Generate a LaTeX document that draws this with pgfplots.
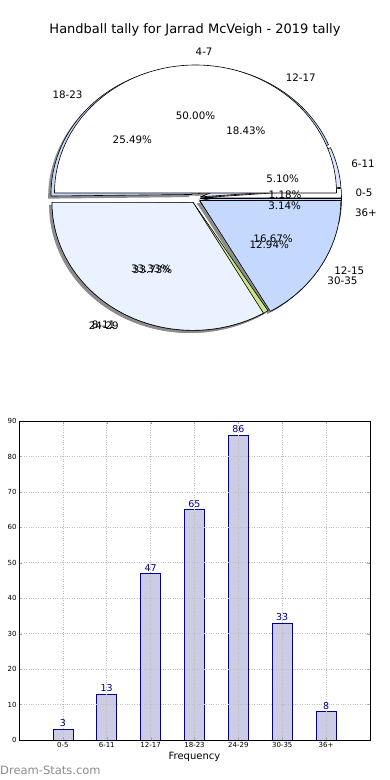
\documentclass[border=0pt]{standalone}
\usepackage{pgfplots}
\pgfplotsset{compat=1.18}
\usepackage{fontspec}
\setmainfont{DejaVu Sans}
\definecolor{barfill}{RGB}{204,204,229}
\definecolor{baredge}{RGB}{0,0,139}
\definecolor{pw}{RGB}{255,255,255}
\definecolor{pl}{RGB}{234,241,255}
\definecolor{pb}{RGB}{197,217,255}
\definecolor{pg}{RGB}{206,230,128}
\definecolor{pv}{RGB}{220,232,255}
\tikzset{pielab/.style={font=\fontsize{10.3}{12}\selectfont, inner sep=0pt}}

% #1 total, #2 mode (0 shadow, 1 wedge, 2 text), #3 list value/colour/label
\newcommand\drawpie[3]{%
 \gdef\cum{0}%
 \foreach \v/\cl/\lb in {#3}{%
   \pgfmathsetmacro\sa{\cum/#1*360}%
   \pgfmathsetmacro\cumn{\cum+\v}%
   \global\let\cum\cumn
   \pgfmathsetmacro\ea{\cum/#1*360}%
   \pgfmathsetmacro\ma{(\sa+\ea)/2}%
   \pgfmathsetmacro\ex{5*cos(\ma)}%
   \pgfmathsetmacro\ey{5*sin(\ma)}%
   \ifcase#2 %
     \pgfmathsetmacro\sx{\ex-2.8}\pgfmathsetmacro\sy{\ey-2.6}%
     \edef\tmp{\noexpand\fill[black!45] (axis cs:\sx,\sy) -- ++(\sa:141pt and 128pt) arc[start angle=\sa, end angle=\ea, x radius=141pt, y radius=128pt] -- cycle;}\tmp
   \or
     \edef\tmp{\noexpand\filldraw[fill=\cl, draw=black, line width=0.6pt, line join=round] (axis cs:\ex,\ey) -- ++(\sa:141pt and 128pt) arc[start angle=\sa, end angle=\ea, x radius=141pt, y radius=128pt] -- cycle;}\tmp
   \or
     \pgfmathsetmacro\lx{\ex+155.1*cos(\ma)}%
     \pgfmathsetmacro\ly{\ey+140.8*sin(\ma)}%
     \pgfmathsetmacro\px{\ex+84.6*cos(\ma)}%
     \pgfmathsetmacro\py{\ey+76.8*sin(\ma)}%
     \pgfmathtruncatemacro\isr{cos(\ma)>-0.001}%
     \ifnum\isr=1 \def\an{west}\else\def\an{east}\fi
     \pgfmathsetmacro\pp{100*\v/#1}%
     \pgfmathtruncatemacro\pc{round(100*\pp)}%
     \pgfmathtruncatemacro\pint{(\pc+0.01)/100}%
     \pgfmathtruncatemacro\pfr{\pc-100*\pint}%
     \ifnum\pfr<10 \edef\pfr{0\pfr}\fi
     \edef\tmp{\noexpand\node[pielab, anchor=\an] at (axis cs:\lx,\ly) {\lb};
       \noexpand\node[pielab] at (axis cs:\px,\py) {\pint.\pfr\noexpand\%};}\tmp
   \fi
 }%
}

\def\pieA{3/pw/0-5, 13/pv/6-11, 47/pb/12-17, 65/pb/18-23, 86/pg/24-29, 33/pb/30-35, 8/pb/36+}
\def\pieB{3/pw/4-7, 2/pl/8-11, 1/pb/12-15}

\begin{document}
\begin{tikzpicture}
\path[use as bounding box] (0,0) rectangle (390pt,-780pt);

\node[font=\fontsize{13}{15}\selectfont] at (195pt,-30pt) {Handball tally for Jarrad McVeigh - 2019 tally};

\begin{axis}[at={(195.5pt,-198pt)}, anchor=origin, x=1pt, y=1pt,
  xmin=-190, xmax=190, ymin=-150, ymax=150, hide axis, clip=false]
\expandafter\drawpie\expandafter{\expandafter2\expandafter5\expandafter5\expandafter}\expandafter{\expandafter0\expandafter}\expandafter{\pieA}
\expandafter\drawpie\expandafter{\expandafter6\expandafter}\expandafter{\expandafter0\expandafter}\expandafter{\pieB}
\expandafter\drawpie\expandafter{\expandafter2\expandafter5\expandafter5\expandafter}\expandafter{\expandafter1\expandafter}\expandafter{\pieA}
\expandafter\drawpie\expandafter{\expandafter6\expandafter}\expandafter{\expandafter1\expandafter}\expandafter{\pieB}
\expandafter\drawpie\expandafter{\expandafter2\expandafter5\expandafter5\expandafter}\expandafter{\expandafter2\expandafter}\expandafter{\pieA}
\expandafter\drawpie\expandafter{\expandafter6\expandafter}\expandafter{\expandafter2\expandafter}\expandafter{\pieB}
\end{axis}

\begin{axis}[at={(19pt,-740pt)}, anchor=south west, scale only axis,
  width=351pt, height=319pt,
  xmin=-1, xmax=7, ymin=0, ymax=90,
  xtick={0,...,6}, xticklabels={0-5,6-11,12-17,18-23,24-29,30-35,36+},
  ytick={0,10,...,90},
  /pgf/number format/assume math mode=true,
  ybar, bar width=20pt,
  grid=major, major grid style={dotted, gray!50, line width=0.7pt},
  axis on top, tick align=inside, major tick length=3pt,
  tick style={gray!70},
  tick label style={font=\fontsize{7}{8}\selectfont},
  xticklabel style={yshift=1pt},
  yticklabel style={xshift=1pt},
  xlabel={Frequency}, xlabel style={font=\fontsize{10}{12}\selectfont, yshift=2pt},
  nodes near coords,
  nodes near coords style={font=\fontsize{9.5}{10}\selectfont, text=baredge, inner sep=2pt},
  axis line style={black, line width=0.8pt}]
\addplot[fill=barfill, draw=baredge, line width=0.7pt] coordinates {(0,3) (1,13) (2,47) (3,65) (4,86) (5,33) (6,8)};
\end{axis}

\node[anchor=west, text=black!45, font=\fontsize{11.5}{13}\selectfont, inner sep=0pt] at (0pt,-770pt) {Dream-Stats.com};
\end{tikzpicture}
\end{document}
